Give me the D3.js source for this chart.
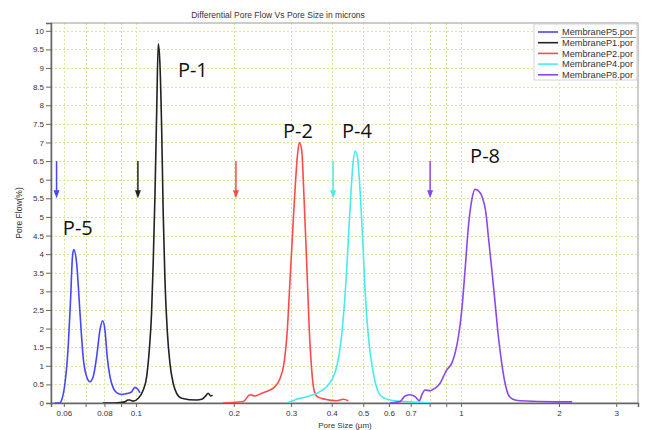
<!DOCTYPE html>
<html>
<head>
<meta charset="utf-8">
<script src="https://cdn.jsdelivr.net/npm/d3@7"></script>
<style>
  body { margin: 0; background: #fff; }
  text { font-family: "Liberation Sans", Arial, sans-serif; }
</style>
</head>
<body>
<div id="chart"></div>
<script>
const width = 647;
const height = 430;
const margin = {top: 23, right: 9, bottom: 27, left: 51};

// data (pore size in microns, pore flow in %)
const seriesNames = ["MembraneP5.por", "MembraneP1.por", "MembraneP2.por", "MembraneP4.por", "MembraneP8.por"];
const seriesColors = ["#4646ff", "#222222", "#ff4a4a", "#46ecec", "#8c46ee"];

const p5Size = [0.0563, 0.0584, 0.0591, 0.0605, 0.0619, 0.0630, 0.0638, 0.0644, 0.0657, 0.0672, 0.0688, 0.0705, 0.0722, 0.0739, 0.0757, 0.0775, 0.0790, 0.0803, 0.0816, 0.0832, 0.0852, 0.0872, 0.0904, 0.0947, 0.0970, 0.0993, 0.1017, 0.1029];
const p5Flow = [0, 0, 0.08, 0.53, 1.51, 2.86, 3.93, 4.12, 3.76, 2.50, 1.24, 0.71, 0.57, 0.71, 1.24, 1.96, 2.21, 1.96, 1.24, 0.71, 0.40, 0.28, 0.23, 0.26, 0.30, 0.42, 0.35, 0.27];

const p1Size = [0.0791, 0.0862, 0.0925, 0.0945, 0.0958, 0.0979, 0.1017, 0.1053, 0.1079, 0.1099, 0.1117, 0.1130, 0.1144, 0.1158, 0.1171, 0.1185, 0.1200, 0.1213, 0.1228, 0.1248, 0.1272, 0.1302, 0.1334, 0.1382, 0.1537, 0.1593, 0.1631, 0.1669, 0.1698, 0.1720];
const p1Flow = [0, 0, 0.03, 0.08, 0.08, 0.05, 0.13, 0.35, 0.71, 1.42, 2.41, 3.76, 5.55, 7.79, 9.65, 9.13, 7.34, 5.10, 3.31, 1.96, 1.07, 0.53, 0.26, 0.13, 0.08, 0.10, 0.17, 0.26, 0.19, 0.21];

const p2Size = [0.1852, 0.2139, 0.2243, 0.2324, 0.2436, 0.2553, 0.2677, 0.2774, 0.2854, 0.2921, 0.2978, 0.3036, 0.3085, 0.3136, 0.3180, 0.3234, 0.3287, 0.3351, 0.3413, 0.3472, 0.3529, 0.3612, 0.3816, 0.4146, 0.4345, 0.4500];
const p2Flow = [0, 0.04, 0.22, 0.19, 0.26, 0.33, 0.44, 0.66, 1.07, 1.96, 3.31, 4.65, 5.73, 6.62, 7.0, 6.80, 5.55, 3.76, 1.96, 0.89, 0.35, 0.17, 0.10, 0.06, 0.10, 0.06];

const p4Size = [0.2914, 0.3122, 0.3351, 0.3597, 0.3816, 0.4001, 0.4146, 0.4264, 0.4345, 0.4429, 0.4500, 0.4577, 0.4643, 0.4719, 0.4797, 0.4889, 0.4983, 0.5066, 0.5186, 0.5351, 0.5504, 0.5703, 0.6045, 0.6965, 0.8028];
const p4Flow = [0, 0.10, 0.17, 0.26, 0.40, 0.62, 0.98, 1.60, 2.31, 3.31, 4.38, 5.55, 6.36, 6.76, 6.62, 5.73, 4.38, 3.04, 1.78, 0.89, 0.40, 0.17, 0.08, 0.03, 0];

const p8Size = [0.6045, 0.6491, 0.6725, 0.6967, 0.7219, 0.7444, 0.7572, 0.7748, 0.8028, 0.8318, 0.8618, 0.8822, 0.9036, 0.9362, 0.9583, 0.9811, 1.0050, 1.0287, 1.0531, 1.0788, 1.1042, 1.1304, 1.1579, 1.1937, 1.2134, 1.2430, 1.2722, 1.3024, 1.3340, 1.3656, 1.3978, 1.4422, 1.5190, 1.9703, 2.1954];
const p8Flow = [0, 0.04, 0.19, 0.22, 0.17, 0.06, 0.22, 0.35, 0.33, 0.40, 0.53, 0.71, 0.89, 1.07, 1.34, 1.78, 2.50, 3.58, 4.74, 5.46, 5.74, 5.70, 5.56, 5.07, 4.46, 3.58, 2.69, 1.78, 1.06, 0.53, 0.22, 0.10, 0.06, 0.03, 0.03];

const sizes = [p5Size, p1Size, p2Size, p4Size, p8Size];
const flows = [p5Flow, p1Flow, p2Flow, p4Flow, p8Flow];

// marker arrows (pore size where each arrow stands) and peak labels
const arrowSize = [0.057, 0.1014, 0.203, 0.404, 0.803];
const arrowTop = 6.5;
const arrowBottom = 5.5;
const labelText = ["P-5", "P-1", "P-2", "P-4", "P-8"];
const labelSize = [0.0596, 0.1346, 0.2834, 0.4304, 1.066];
const labelFlow = [4.52, 8.76, 7.12, 7.12, 6.45];

const xTickLabels = [0.06, 0.08, 0.1, 0.2, 0.3, 0.4, 0.5, 0.6, 0.7, 1, 2, 3];
const xGrid = [0.06, 0.07, 0.08, 0.09, 0.1, 0.2, 0.3, 0.4, 0.5, 0.6, 0.7, 0.8, 0.9, 1, 2, 3];
const yTicks = d3.range(0, 10.01, 0.5);

const x = d3.scaleLog()
    .domain([0.0548, 3.5])
    .range([margin.left, width - margin.right]);
const y = d3.scaleLinear()
    .domain([0, 10.21])
    .range([height - margin.bottom, margin.top]);

const svg = d3.select('#chart').append('svg')
    .attr('width', width)
    .attr('height', height);

svg.append('rect')
    .attr('width', width)
    .attr('height', height)
    .attr('fill', '#fff');

// title
svg.append('text')
    .attr('x', 278)
    .attr('y', 18)
    .attr('text-anchor', 'middle')
    .style('font-size', '8.5px')
    .style('fill', '#333')
    .text('Differential Pore Flow Vs Pore Size in microns');

// grid
const grid = svg.append('g')
    .attr('stroke', '#dce59c')
    .attr('stroke-dasharray', '2,2')
    .attr('stroke-width', 1);

grid.selectAll('.hgrid')
    .data(yTicks.filter(d => d > 0))
    .enter().append('line')
    .attr('x1', margin.left)
    .attr('x2', width - margin.right)
    .attr('y1', d => Math.round(y(d)) + 0.5)
    .attr('y2', d => Math.round(y(d)) + 0.5);

grid.selectAll('.vgrid')
    .data(xGrid)
    .enter().append('line')
    .attr('x1', d => Math.round(x(d)) + 0.5)
    .attr('x2', d => Math.round(x(d)) + 0.5)
    .attr('y1', margin.top)
    .attr('y2', height - margin.bottom);

// frame
svg.append('rect')
    .attr('x', margin.left)
    .attr('y', margin.top)
    .attr('width', width - margin.left - margin.right)
    .attr('height', height - margin.top - margin.bottom)
    .attr('fill', 'none')
    .attr('stroke', '#9a9a9a');

// axes
const yAxis = svg.append('g')
    .attr('transform', 'translate(' + margin.left + ',0)')
    .call(d3.axisLeft(y).tickValues(yTicks).tickSize(5).tickPadding(2).tickFormat(d => d));

const xAxis = svg.append('g')
    .attr('transform', 'translate(0,' + (height - margin.bottom) + ')')
    .call(d3.axisBottom(x).tickValues(xGrid).tickSize(4).tickPadding(3)
        .tickFormat(d => xTickLabels.includes(d) ? d : ''));

[xAxis, yAxis].forEach(function (a) {
    a.select('.domain').attr('stroke', '#666').attr('stroke-width', 1.5);
    a.selectAll('.tick line').attr('stroke', '#666');
    a.selectAll('text').style('font-size', '8px').style('fill', '#333')
        .style('font-family', '"Liberation Sans", Arial, sans-serif');
});

svg.append('text')
    .attr('transform', 'translate(22,' + ((margin.top + height - margin.bottom) / 2) + ') rotate(-90)')
    .attr('text-anchor', 'middle')
    .style('font-size', '8.5px')
    .style('fill', '#333')
    .text('Pore Flow(%)');

svg.append('text')
    .attr('x', 345)
    .attr('y', 428)
    .attr('text-anchor', 'middle')
    .style('font-size', '8px')
    .style('fill', '#333')
    .text('Pore Size (µm)');

// curves
svg.append('clipPath').attr('id', 'plot')
    .append('rect')
    .attr('x', margin.left)
    .attr('y', margin.top)
    .attr('width', width - margin.left - margin.right)
    .attr('height', height - margin.top - margin.bottom);

const line = d3.line()
    .x(d => x(d[0]))
    .y(d => y(d[1]))
    .curve(d3.curveMonotoneX);

svg.append('g')
    .attr('clip-path', 'url(#plot)')
    .selectAll('path')
    .data(seriesNames)
    .enter().append('path')
    .attr('d', (d, i) => line(d3.zip(sizes[i], flows[i])))
    .attr('fill', 'none')
    .attr('stroke', (d, i) => seriesColors[i])
    .attr('stroke-width', 1.6)
    .attr('stroke-linejoin', 'round');

// arrows
const arrows = svg.append('g').selectAll('g')
    .data(arrowSize)
    .enter().append('g');

arrows.append('line')
    .attr('x1', d => x(d))
    .attr('x2', d => x(d))
    .attr('y1', y(arrowTop))
    .attr('y2', y(arrowBottom) - 6)
    .attr('stroke', (d, i) => seriesColors[i])
    .attr('stroke-width', 1.5);

arrows.append('path')
    .attr('d', d => 'M' + (x(d) - 3) + ',' + (y(arrowBottom) - 8) + 'L' + (x(d) + 3) + ',' + (y(arrowBottom) - 8) + 'L' + x(d) + ',' + y(arrowBottom) + 'Z')
    .attr('fill', (d, i) => seriesColors[i]);

// peak labels
svg.append('g').selectAll('text')
    .data(labelText)
    .enter().append('text')
    .attr('x', (d, i) => x(labelSize[i]))
    .attr('y', (d, i) => y(labelFlow[i]))
    .style('font-family', '"Open Sans", "Noto Sans", sans-serif')
    .style('font-size', '20px')
    .style('fill', '#111')
    .text(d => d);

// legend
const legendBox = svg.append('g');
legendBox.append('rect')
    .attr('x', 534)
    .attr('y', margin.top + 1)
    .attr('width', width - margin.right - 535)
    .attr('height', 56)
    .attr('fill', '#fff')
    .attr('stroke', '#d4d4d4');

const legend = legendBox.selectAll('.legend')
    .data(seriesNames)
    .enter().append('g')
    .attr('class', 'legend')
    .attr('transform', (d, i) => 'translate(0,' + (32 + i * 10.7) + ')');

legend.append('line')
    .attr('x1', 538)
    .attr('x2', 558)
    .attr('stroke', (d, i) => seriesColors[i])
    .attr('stroke-width', 1.6);

legend.append('text')
    .attr('x', 562)
    .attr('dy', '0.35em')
    .style('font-size', '9.2px')
    .style('fill', '#333')
    .text(d => d);

legendBox.append('line')
    .attr('x1', 561)
    .attr('x2', 636)
    .attr('y1', 37.5)
    .attr('y2', 37.5)
    .attr('stroke', '#999');
</script>
</body>
</html>
